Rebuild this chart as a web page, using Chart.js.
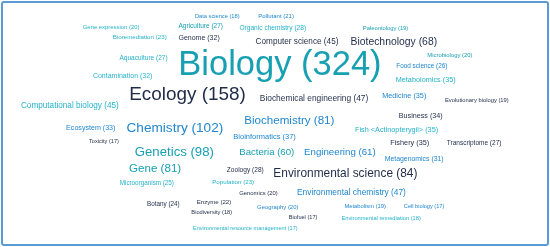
<!DOCTYPE html>
<html>
<head>
<meta charset="utf-8">
<script src="https://cdn.jsdelivr.net/npm/chart.js@4.4.1/dist/chart.umd.min.js"></script>
<style>
  body { margin: 0; background: #fff; }
  #wrap { position: relative; width: 550px; height: 247px; }
  #frame {
    position: absolute; left: 1px; top: 1px; width: 544px; height: 241px;
    border: 2px solid #5b9bd5; border-radius: 3px; pointer-events: none;
  }
</style>
</head>
<body>
<div id="wrap">
  <canvas id="cloud" width="550" height="247"></canvas>
  <div id="frame"></div>
</div>
<script>
// Keywords and their counts
const words = [
  'Gene expression', 'Bioremediation', 'Aquaculture', 'Contamination', 'Agriculture',
  'Genome', 'Data science', 'Pollutant', 'Organic chemistry', 'Computer science',
  'Biotechnology', 'Paleontology', 'Microbiology', 'Food science', 'Metabolomics',
  'Biology', 'Ecology', 'Biochemical engineering', 'Medicine', 'Evolutionary biology',
  'Computational biology', 'Business', 'Chemistry', 'Biochemistry', 'Bioinformatics',
  'Fish <Actinopterygii>', 'Ecosystem', 'Toxicity', 'Fishery', 'Transcriptome',
  'Genetics', 'Bacteria', 'Engineering', 'Metagenomics', 'Gene',
  'Zoology', 'Environmental science', 'Microorganism', 'Population', 'Genomics',
  'Environmental chemistry', 'Botany', 'Enzyme', 'Geography', 'Metabolism',
  'Cell biology', 'Biodiversity', 'Biofuel', 'Environmental remediation', 'Environmental resource management'
];
const counts = [
  20, 23, 27, 32, 27,
  32, 18, 21, 28, 45,
  68, 19, 20, 26, 35,
  324, 158, 47, 35, 19,
  45, 34, 102, 81, 37,
  35, 33, 17, 35, 27,
  98, 60, 61, 31, 81,
  28, 84, 25, 23, 20,
  47, 24, 22, 20, 19,
  17, 18, 17, 18, 17
];
// placement of each word in the cloud (percent of width / height from top)
const cloudX = [
  20.2, 25.4, 26.1, 22.3, 36.5,
  36.2, 39.5, 50.2, 49.6, 54.0,
  71.6, 70.1, 81.8, 76.7, 77.4,
  50.9, 34.1, 57.1, 73.5, 86.7,
  12.7, 76.5, 31.8, 52.6, 48.1,
  72.1, 16.5, 18.9, 74.5, 86.2,
  31.7, 48.5, 61.8, 75.3, 28.2,
  44.6, 62.8, 26.7, 42.4, 47.0,
  63.9, 29.7, 38.9, 50.5, 66.4,
  77.1, 38.5, 55.1, 69.3, 44.6
];
const cloudY = [
  10.9, 15.0, 23.6, 30.8, 10.5,
  15.5, 6.5, 6.8, 11.5, 16.7,
  16.9, 11.5, 22.3, 27.0, 32.4,
  26.7, 38.5, 39.8, 38.7, 40.8,
  42.9, 46.8, 51.9, 48.9, 55.3,
  52.6, 51.9, 57.4, 58.0, 58.0,
  61.5, 61.8, 61.8, 64.4, 68.5,
  68.9, 70.2, 74.0, 73.7, 78.1,
  77.9, 82.5, 82.1, 83.8, 83.5,
  83.5, 86.1, 87.9, 88.3, 92.3
];

const DARK = '#1f2b48', TEAL = '#17a0b2', BLUE = '#1f86cf', CYAN = '#25b3cb';
const colorOf = {
  'Gene expression': CYAN, 'Bioremediation': CYAN, 'Aquaculture': CYAN, 'Contamination': CYAN,
  'Agriculture': TEAL, 'Genome': DARK, 'Data science': BLUE, 'Pollutant': BLUE,
  'Organic chemistry': CYAN, 'Computer science': DARK, 'Biotechnology': DARK,
  'Paleontology': TEAL, 'Microbiology': TEAL, 'Food science': BLUE, 'Metabolomics': CYAN,
  'Biology': TEAL, 'Ecology': DARK, 'Biochemical engineering': DARK, 'Medicine': BLUE,
  'Evolutionary biology': DARK, 'Computational biology': CYAN, 'Business': DARK,
  'Chemistry': BLUE, 'Biochemistry': BLUE, 'Bioinformatics': BLUE,
  'Fish <Actinopterygii>': CYAN, 'Ecosystem': BLUE, 'Toxicity': DARK, 'Fishery': DARK,
  'Transcriptome': DARK, 'Genetics': TEAL, 'Bacteria': TEAL, 'Engineering': BLUE,
  'Metagenomics': BLUE, 'Gene': TEAL, 'Zoology': DARK, 'Environmental science': DARK,
  'Microorganism': CYAN, 'Population': CYAN, 'Genomics': DARK,
  'Environmental chemistry': BLUE, 'Botany': DARK, 'Enzyme': DARK, 'Geography': BLUE,
  'Metabolism': BLUE, 'Cell biology': BLUE, 'Biodiversity': DARK, 'Biofuel': DARK,
  'Environmental remediation': CYAN, 'Environmental resource management': CYAN
};

// font size grows with the count
function fontSize(v) {
  return 4 + 0.094 * v;
}

const wordLabels = {
  id: 'wordLabels',
  afterDatasetsDraw(chart) {
    const ctx = chart.ctx;
    const meta = chart.getDatasetMeta(0);
    ctx.save();
    ctx.textAlign = 'center';
    ctx.textBaseline = 'middle';
    meta.data.forEach((pt, i) => {
      ctx.font = fontSize(counts[i]).toFixed(1) + 'px "Liberation Sans", Arial, sans-serif';
      ctx.fillStyle = colorOf[words[i]];
      ctx.fillText(words[i] + ' (' + counts[i] + ')', pt.x, pt.y);
    });
    ctx.restore();
  }
};

new Chart(document.getElementById('cloud'), {
  type: 'scatter',
  data: {
    datasets: [{
      data: words.map((w, i) => ({ x: cloudX[i], y: cloudY[i] })),
      pointRadius: 0,
      pointHoverRadius: 0
    }]
  },
  options: {
    responsive: false,
    devicePixelRatio: 1,
    animation: false,
    layout: { padding: 0 },
    plugins: { legend: { display: false }, tooltip: { enabled: false } },
    scales: {
      x: { min: 0, max: 100, display: false },
      y: { min: 0, max: 100, reverse: true, display: false }
    }
  },
  plugins: [wordLabels]
});
</script>
</body>
</html>
